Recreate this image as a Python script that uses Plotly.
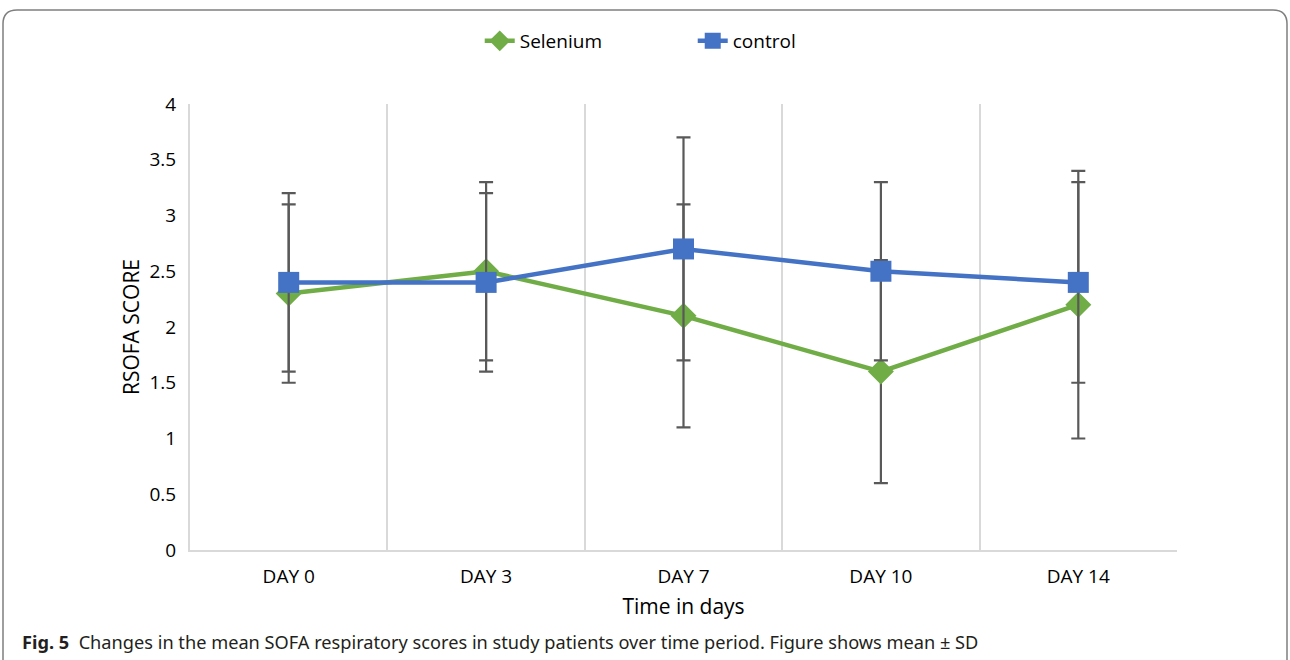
import plotly.graph_objects as go

days = ["DAY 0", "DAY 3", "DAY 7", "DAY 10", "DAY 14"]
selenium_mean = [2.3, 2.5, 2.1, 1.6, 2.2]
selenium_sd = [0.8, 0.8, 1.0, 1.0, 1.2]
control_mean = [2.4, 2.4, 2.7, 2.5, 2.4]
control_sd = [0.8, 0.8, 1.0, 0.8, 0.9]

GREEN = "#70AD47"
BLUE = "#4472C4"
ERR = "#595959"
FONT = "Open Sans"

W, H = 1290, 660
ML, MR, MT, MB = 190, 113, 104, 110

fig = go.Figure()

fig.add_trace(go.Scatter(
    x=days, y=selenium_mean, name="Selenium", mode="lines+markers",
    line=dict(color=GREEN, width=4.5),
    marker=dict(symbol="diamond", size=20, color=GREEN),
    error_y=dict(type="data", array=selenium_sd, visible=True,
                 color=ERR, thickness=2.2, width=7),
))
fig.add_trace(go.Scatter(
    x=days, y=control_mean, name="control", mode="lines+markers",
    line=dict(color=BLUE, width=4.5),
    marker=dict(symbol="square", size=21, color=BLUE),
    error_y=dict(type="data", array=control_sd, visible=True,
                 color=ERR, thickness=2.2, width=7),
))

fig.update_layout(
    width=W, height=H,
    margin=dict(l=ML, r=MR, t=MT, b=MB),
    paper_bgcolor="white", plot_bgcolor="white",
    font=dict(family=FONT, color="#000000"),
    showlegend=True,
    legend=dict(orientation="h", xref="container", x=0.537, xanchor="center",
                yref="container", y=1 - 22 / H, yanchor="top",
                font=dict(size=19, family=FONT),
                entrywidth=168, bgcolor="rgba(0,0,0,0)"),
    xaxis=dict(
        type="category", range=[-0.5, 4.5],
        tickson="boundaries", ticks="", showgrid=True,
        gridcolor="#D9D9D9", gridwidth=2,
        showline=True, linecolor="#D9D9D9", linewidth=2,
        ticklabelstandoff=8,
        tickfont=dict(size=19, family=FONT),
        title=dict(text="Time in days", font=dict(size=21, family=FONT), standoff=12),
        zeroline=False,
    ),
    yaxis=dict(
        range=[0, 4], dtick=0.5, showgrid=False, zeroline=False,
        showline=True, linecolor="#D9D9D9", linewidth=2,
        ticks="", ticklabelstandoff=8,
        tickfont=dict(size=19, family=FONT),
        title=dict(text="RSOFA SCORE", font=dict(size=21, family=FONT), standoff=4),
    ),
)


def px_x(v):
    return (v - ML) / (W - ML - MR)


def px_y(v):
    return (H - MB - v) / (H - MT - MB)


# rounded panel frame around the figure
r = 14
path = (
    f"M {px_x(3)},{px_y(H)} L {px_x(3)},{px_y(10 + r)} "
    f"Q {px_x(3)},{px_y(10)} {px_x(3 + r)},{px_y(10)} "
    f"L {px_x(1287 - r)},{px_y(10)} "
    f"Q {px_x(1287)},{px_y(10)} {px_x(1287)},{px_y(10 + r)} "
    f"L {px_x(1287)},{px_y(H)}"
)
fig.add_shape(type="path", path=path, xref="paper", yref="paper",
              line=dict(color="#7F7F7F", width=1.5), layer="above")

fig.add_annotation(
    text="<b>Fig. 5</b>  Changes in the mean SOFA respiratory scores in study patients over time period. Figure shows mean ± SD",
    xref="paper", yref="paper", x=px_x(20), y=px_y(642),
    xanchor="left", yanchor="middle", showarrow=False,
    font=dict(size=18.2, family="Noto Sans", color="#231F20"),
)

fig.write_html("out.html")
